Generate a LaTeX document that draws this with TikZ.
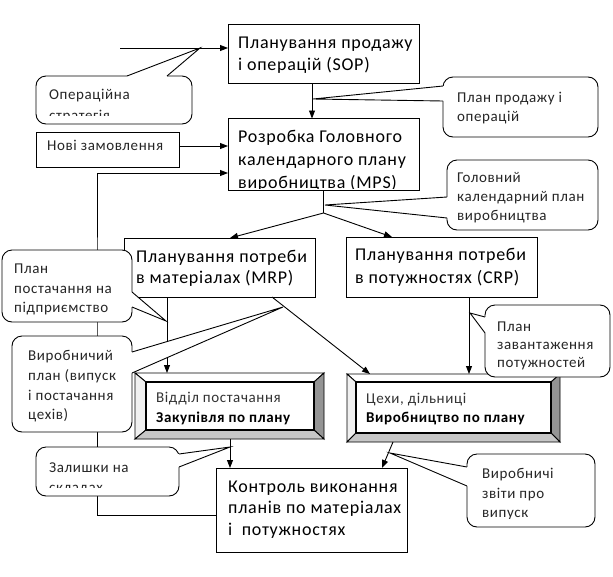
\documentclass[tikz,border=0pt]{standalone}
\usepackage{fontspec}
\setmainfont{Carlito}[LetterSpace=4]
\usetikzlibrary{arrows.meta,calc}
\newcommand\ptr[4]{%
  \fill[white] #1 -- #2 -- ($#2+#4$) -- ($#3+#4$) -- #3 -- cycle;
  \draw[ln] #2 -- #1 -- #3;}
\newcommand\bevel[5]{%
  \coordinate (#1-A) at ([xshift=#2pt,yshift=-#3pt]#1.north west);
  \coordinate (#1-B) at ([xshift=-#4pt,yshift=-#3pt]#1.north east);
  \coordinate (#1-C) at ([xshift=-#4pt,yshift=#5pt]#1.south east);
  \coordinate (#1-D) at ([xshift=#2pt,yshift=#5pt]#1.south west);
  \filldraw[ln,fill=white] (#1.north west) -- (#1.north east) -- (#1-B) -- (#1-A) -- cycle;
  \filldraw[ln,fill=black!6] (#1.north west) -- (#1-A) -- (#1-D) -- (#1.south west) -- cycle;
  \filldraw[ln,fill=black!42] (#1.north east) -- (#1.south east) -- (#1-C) -- (#1-B) -- cycle;
  \filldraw[ln,fill=black!22] (#1.south west) -- (#1-D) -- (#1-C) -- (#1.south east) -- cycle;
  \filldraw[line width=1.3pt,fill=white] (#1-A) -- (#1-B) -- (#1-C) -- (#1-D) -- cycle;}
\begin{document}
\begin{tikzpicture}[x=1pt,y=-1pt,
  box/.style={draw=black,line width=0.9pt,fill=white,inner sep=0pt,outer sep=0pt},
  call/.style={draw=black,line width=0.9pt,fill=white,rounded corners=10pt,inner sep=0pt,outer sep=0pt},
  bev/.style={inner sep=0pt,outer sep=0pt},
  ln/.style={line width=0.9pt},
  arr/.style={line width=0.9pt,-{Triangle[length=8pt,width=6pt]}},
  bt/.style={anchor=base west,inner sep=0pt,font=\fontsize{18}{20}\selectfont},
  ct/.style={anchor=base west,inner sep=0pt,text=black!85,font=\fontsize{15}{17}\selectfont},
  vt/.style={anchor=base west,inner sep=0pt,text=black!80,font=\fontsize{15}{17}\selectfont},
  vb/.style={anchor=base west,inner sep=0pt,font=\bfseries\fontsize{15}{17}\selectfont}]
\useasboundingbox[fill=white] (0,0) rectangle (613,576);

% main boxes
\node[box,minimum width=191pt,minimum height=59pt] (sop) at (323.5,53.5) {};
\node[box,minimum width=191pt,minimum height=72pt] (mps) at (323.5,154.5) {};
\node[box,minimum width=143pt,minimum height=35pt] (nov) at (107.5,149.5) {};
\node[box,minimum width=191pt,minimum height=59pt] (mrp) at (219.5,267.5) {};
\node[box,minimum width=191pt,minimum height=60pt] (crp) at (441.5,267) {};
\node[bev,minimum width=189pt,minimum height=66pt] (vid) at (229.5,406) {};
\node[bev,minimum width=213pt,minimum height=68pt] (ceh) at (453.5,408) {};
\node[box,minimum width=191pt,minimum height=84pt] (ctrl) at (311.5,510) {};
\bevel{vid}{11}{9}{10}{9}
\bevel{ceh}{9}{8}{9}{9}

% connectors
\coordinate (in) at (120,48);
\draw[arr] (in) -- (in -| sop.west);
\draw[arr] ([xshift=-11.5pt]sop.south) -- ([xshift=-11.5pt]mps.north);
\coordinate (n1) at ([yshift=3.5pt]nov.east);
\draw[arr] (n1) -- (n1 -| mps.west);
\coordinate (fb) at (97,300);
\draw[arr] ([yshift=-5pt]ctrl.west) -| (fb) |- ([yshift=-18.5pt]mps.west);
\coordinate (sp) at ([yshift=-22.5pt]mps.south);
\draw[ln] (mps.south) -- (sp);
\draw[arr] (sp) -- ([xshift=10.5pt]mrp.north);
\draw[arr] (sp) -- ([xshift=-49.5pt]crp.north);
\coordinate (m1) at ([xshift=-52.5pt]mrp.south);
\draw[arr] (m1) -- (m1 |- vid.north);
\draw[arr] ([xshift=52.5pt]mrp.south) -- ([xshift=-83.5pt]ceh.north);
\coordinate (c1) at ([xshift=27.5pt]crp.south);
\draw[arr] (c1) -- (c1 |- ceh.north);
\coordinate (v1) at ([xshift=0.5pt]vid.south);
\draw[arr] (v1) -- (v1 |- ctrl.north);
\draw[arr] ([xshift=-60.5pt]ceh.south) -- ([xshift=70.5pt]ctrl.north);

% callouts
\node[call,minimum width=156pt,minimum height=48pt] (cOp) at (114,100) {};
\ptr{(200,48)}{(127,76)}{(167,76)}{(0,3)}
\node[call,minimum width=155pt,minimum height=60pt] (cPl) at (520.5,107) {};
\ptr{(313,99)}{(443,86)}{(443,101)}{(3,0)}
\node[call,minimum width=151pt,minimum height=70pt] (cGo) at (522.5,195) {};
\ptr{(325,205)}{(447,197)}{(447,218)}{(3,0)}
\node[call,minimum width=130pt,minimum height=72pt] (cPs) at (67,286) {};
\ptr{(166,321)}{(132,292)}{(132,307)}{(-3,0)}
\node[call,minimum width=120pt,minimum height=96pt] (cVy) at (72,384) {};
\ptr{(283,307)}{(132,352)}{(132,373)}{(-3,0)}
\node[call,minimum width=125pt,minimum height=72pt] (cZa) at (547.5,341) {};
\ptr{(470,313)}{(485,317)}{(485,333)}{(3,0)}
\node[call,minimum width=143pt,minimum height=49pt] (cZl) at (107.5,471.5) {};
\ptr{(230,447)}{(179,454)}{(179,467)}{(-3,0)}
\node[call,minimum width=128pt,minimum height=73pt] (cVz) at (531,490.5) {};
\ptr{(390,453)}{(467,467)}{(467,486)}{(3,0)}

% texts of main boxes
\node[bt] (t1) at (238,48) {Планування продажу};
\node[bt] (t2) at (238,70) {і операцій (SOP)};
\begin{scope}
\clip (228,118) rectangle (419,188.5);
\node[bt] (t3) at (238,142) {Розробка Головного};
\node[bt] (t4) at (238,165) {календарного плану};
\node[bt] (t5) at (238,188) {виробництва (MPS)};
\end{scope}
\node[ct] (t6) at (47,150) {Нові замовлення};
\node[bt] (t7) at (136,262) {Планування потреби};
\node[bt] (t8) at (136,283) {в матеріалах (MRP)};
\node[bt] (t9) at (355,260) {Планування потреби};
\node[bt] (t10) at (355,283) {в потужностях (CRP)};
\node[bt] (t11) at (228,492) {Контроль виконання};
\node[bt] (t12) at (228,513) {планів по матеріалах};
\node[bt] (t13) at (228,535) {і\ \ потужностях};
\node[vt] (t14) at (156,402) {Відділ постачання};
\node[vb] (t15) at (156,422) {Закупівля по плану};
\node[vt] (t16) at (366,403) {Цехи, дільниці};
\node[vb] (t17) at (366,422) {Виробництво по плану};

% texts of callouts
\begin{scope}
\clip (36,76) rectangle (192,115.5);
\node[ct] (u1) at (49,99) {Операційна};
\node[ct] (u2) at (49,120) {стратегія};
\end{scope}
\node[ct] (u3) at (457,102) {План продажу і};
\node[ct] (u4) at (457,121) {операцій};
\node[ct] (u5) at (457,182) {Головний};
\node[ct] (u6) at (457,201) {календарний план};
\node[ct] (u7) at (457,220) {виробництва};
\begin{scope}
\clip (2,250) rectangle (132,315);
\node[ct] (u8) at (14,273) {План};
\node[ct] (u9) at (14,293) {постачання на};
\node[ct] (u10) at (14,312) {підприємство};
\end{scope}
\node[ct] (u11) at (28,360) {Виробничий};
\node[ct] (u12) at (28,380) {план (випуск};
\node[ct] (u13) at (28,400) {і постачання};
\node[ct] (u14) at (28,419) {цехів)};
\begin{scope}
\clip (485,305) rectangle (610,369);
\node[ct] (u15) at (497,331) {План};
\node[ct] (u16) at (497,349) {завантаження};
\node[ct] (u17) at (497,367) {потужностей};
\end{scope}
\begin{scope}
\clip (36,447) rectangle (179,487);
\node[ct] (u18) at (49,472) {Залишки на};
\node[ct] (u19) at (49,492) {складах};
\end{scope}
\begin{scope}
\clip (467,454) rectangle (595,518);
\node[ct] (u20) at (482,478) {Виробничі};
\node[ct] (u21) at (482,498) {звіти про};
\node[ct] (u22) at (482,517) {випуск};
\end{scope}
\end{tikzpicture}
\end{document}
